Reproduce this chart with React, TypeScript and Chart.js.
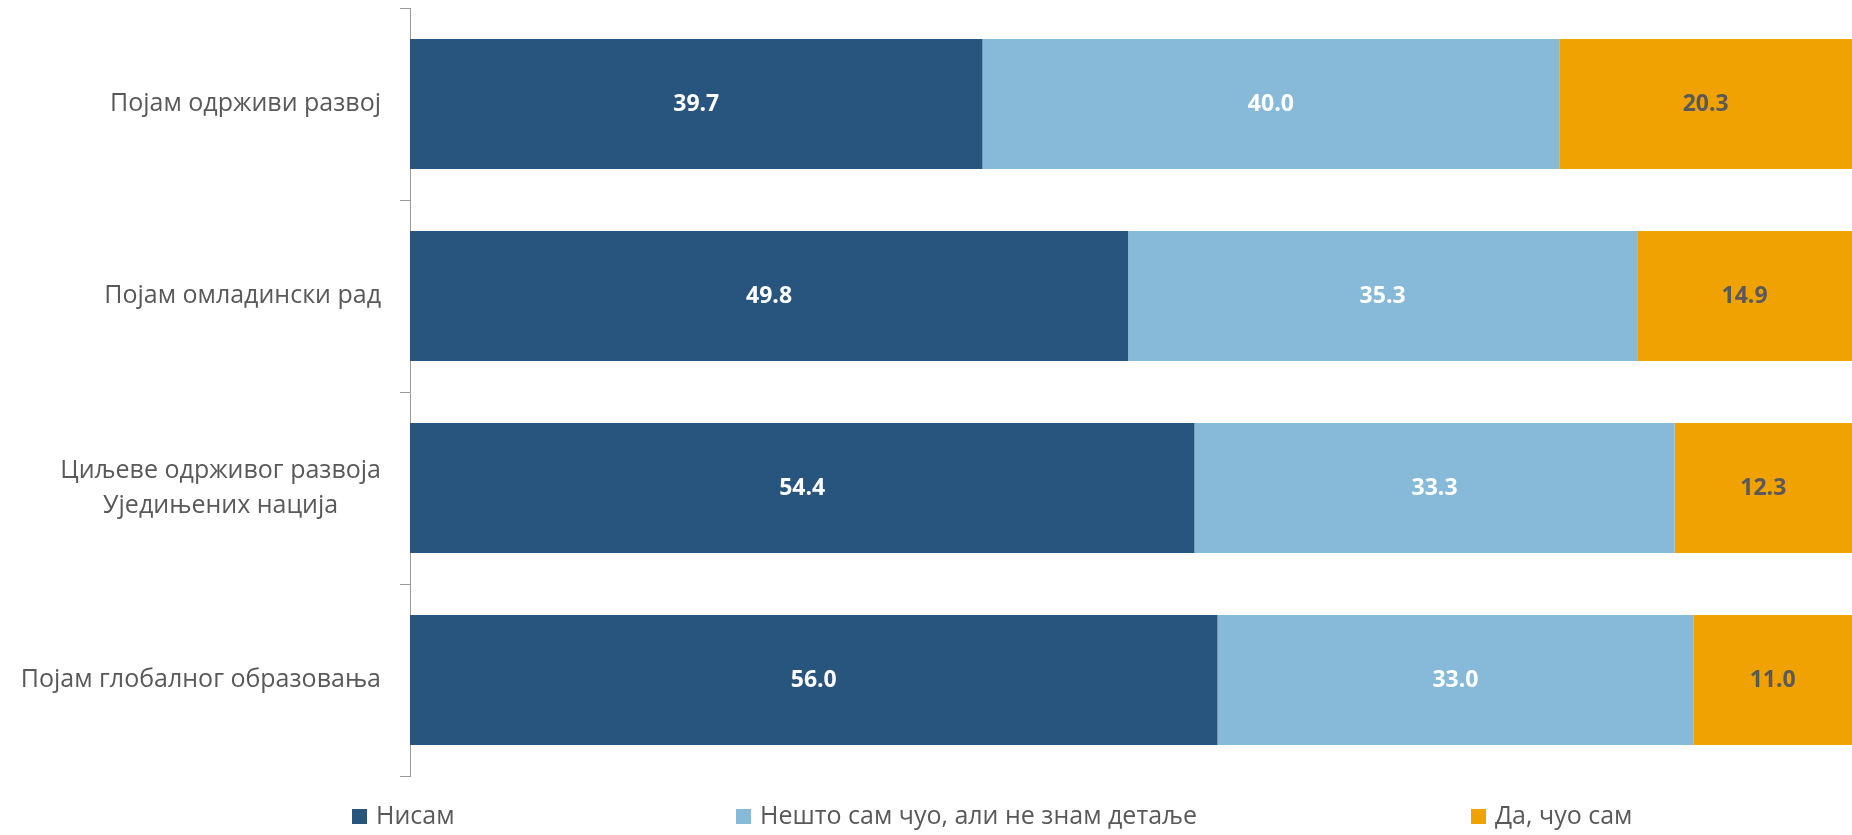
import React, { useEffect, useRef } from "react";
import { Chart, registerables } from "chart.js";

Chart.register(...registerables);

const categories: (string | string[])[] = [
  "Појам одрживи развој",
  "Појам омладински рад",
  ["Циљеве одрживог развоја", "Уједињених нација"],
  "Појам глобалног образовања",
];

const seriesNames = ["Нисам", "Нешто сам чуо, али не знам детаље", "Да, чуо сам"];
const nisam = [39.7, 49.8, 54.4, 56.0];
const nestoSamCuo = [40.0, 35.3, 33.3, 33.0];
const daCuoSam = [20.3, 14.9, 12.3, 11.0];

const colors = ["#27557E", "#86BAD8", "#F0A202"];
const labelColors = ["#FFFFFF", "#FFFFFF", "#595959"];
const legendX = [352, 736, 1471];

const FONT = "'Open Sans', 'DejaVu Sans', sans-serif";

const dataLabelPlugin = {
  id: "dataLabels",
  afterDatasetsDraw(chart: any) {
    const ctx = chart.ctx;
    ctx.save();
    ctx.font = `bold 23px ${FONT}`;
    ctx.textAlign = "center";
    ctx.textBaseline = "middle";
    chart.data.datasets.forEach((ds: any, di: number) => {
      const meta = chart.getDatasetMeta(di);
      meta.data.forEach((el: any, i: number) => {
        const v = ds.data[i];
        ctx.fillStyle = labelColors[di];
        ctx.fillText(v.toFixed(1), (el.x + el.base) / 2, el.y);
      });
    });
    ctx.restore();
  },
};

// Category labels: block right-aligned to the axis, lines centred within block (as in Excel)
const categoryLabelPlugin = {
  id: "categoryLabels",
  afterDraw(chart: any) {
    const ctx = chart.ctx;
    const yScale = chart.scales.y;
    const right = chart.chartArea.left - 29;
    const lineH = 35;
    ctx.save();
    ctx.font = `25px ${FONT}`;
    ctx.fillStyle = "#595959";
    ctx.textBaseline = "middle";
    ctx.textAlign = "center";
    categories.forEach((lab, i) => {
      const lines = Array.isArray(lab) ? lab : [lab];
      const widest = Math.max(...lines.map((l) => ctx.measureText(l).width));
      const cx = right - widest / 2;
      const cy = yScale.getPixelForTick(i);
      const startY = cy - ((lines.length - 1) * lineH) / 2;
      lines.forEach((l, j) => ctx.fillText(l, cx, startY + j * lineH));
    });
    ctx.restore();
  },
};

const legendPlugin = {
  id: "customLegend",
  afterDraw(chart: any) {
    const ctx = chart.ctx;
    ctx.save();
    ctx.font = `25px ${FONT}`;
    ctx.textBaseline = "middle";
    ctx.textAlign = "left";
    const cy = 817;
    seriesNames.forEach((name, i) => {
      const x = legendX[i];
      ctx.fillStyle = colors[i];
      ctx.fillRect(x, cy - 8, 15, 15);
      ctx.fillStyle = "#595959";
      ctx.fillText(name, x + 24, cy);
    });
    ctx.restore();
  },
};

export default function App() {
  const ref = useRef<HTMLCanvasElement>(null);
  useEffect(() => {
    if (!ref.current) return;
    const chart = new Chart(ref.current, {
      type: "bar",
      data: {
        labels: categories,
        datasets: [nisam, nestoSamCuo, daCuoSam].map((d, i) => ({
          label: seriesNames[i],
          data: d,
          backgroundColor: colors[i],
          borderWidth: 0,
          barPercentage: 0.677,
          categoryPercentage: 1,
        })),
      },
      options: {
        indexAxis: "y",
        animation: false,
        responsive: false,
        maintainAspectRatio: false,
        layout: { padding: { top: 8, bottom: 59, left: 0, right: 0 } },
        plugins: {
          legend: { display: false },
          tooltip: { enabled: false },
        },
        scales: {
          x: {
            stacked: true,
            min: 0,
            max: 100,
            display: false,
          },
          y: {
            stacked: true,
            afterFit: (scale: any) => {
              scale.width = 410;
              scale.paddingTop = 0;
              scale.paddingBottom = 0;
            },
            grid: {
              display: true,
              drawOnChartArea: false,
              drawTicks: true,
              tickLength: 10,
              color: "#999999",
              lineWidth: 1,
              offset: true,
            },
            border: { display: true, color: "#999999", width: 1 },
            ticks: {
              display: false,
              autoSkip: false,
            },
          },
        },
      },
      plugins: [dataLabelPlugin, categoryLabelPlugin, legendPlugin],
    });
    return () => chart.destroy();
  }, []);
  return (
    <div style={{ position: "absolute", left: 0, top: 0, width: 1852, height: 835 }}>
      <canvas ref={ref} width={1852} height={835} style={{ display: "block" }} />
    </div>
  );
}
